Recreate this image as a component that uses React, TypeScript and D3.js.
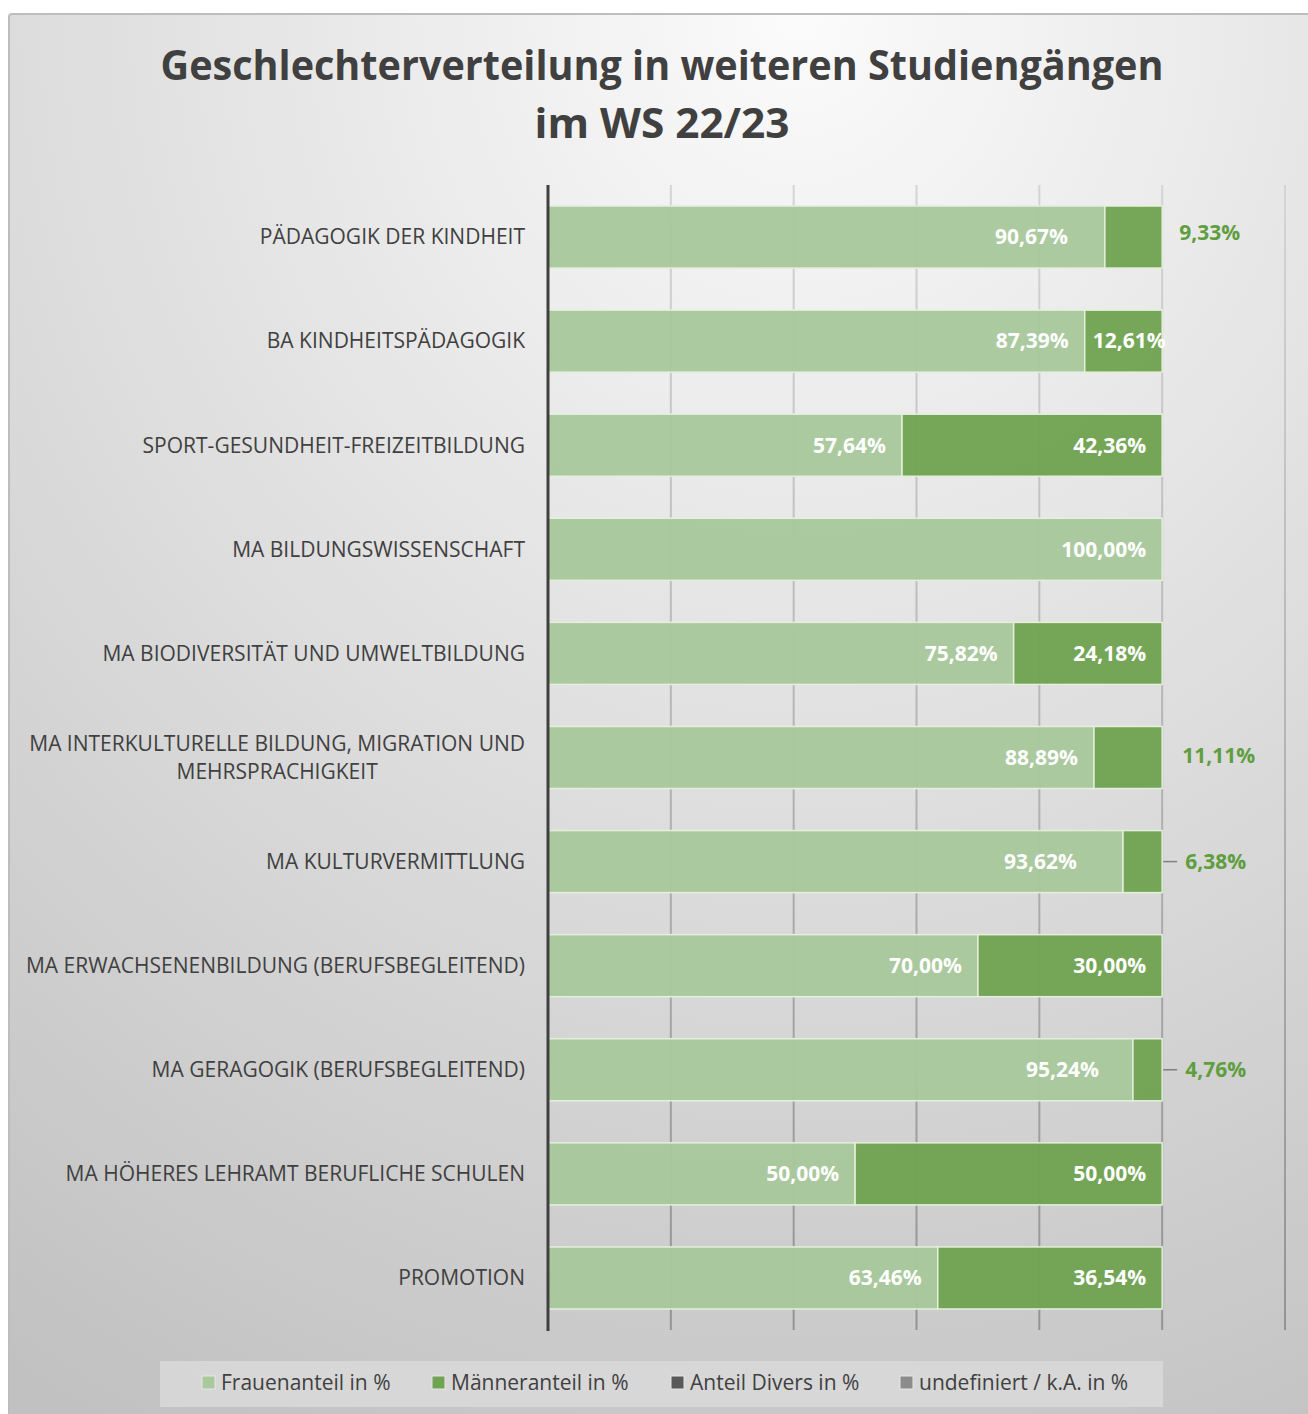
import React, { useEffect, useRef } from 'react';
import * as d3 from 'd3';

const categories = [
  'PÄDAGOGIK DER KINDHEIT',
  'BA KINDHEITSPÄDAGOGIK',
  'SPORT-GESUNDHEIT-FREIZEITBILDUNG',
  'MA BILDUNGSWISSENSCHAFT',
  'MA BIODIVERSITÄT UND UMWELTBILDUNG',
  'MA INTERKULTURELLE BILDUNG, MIGRATION UND MEHRSPRACHIGKEIT',
  'MA KULTURVERMITTLUNG',
  'MA ERWACHSENENBILDUNG (BERUFSBEGLEITEND)',
  'MA GERAGOGIK (BERUFSBEGLEITEND)',
  'MA HÖHERES LEHRAMT BERUFLICHE SCHULEN',
  'PROMOTION',
];
const frauen = [90.67, 87.39, 57.64, 100.0, 75.82, 88.89, 93.62, 70.0, 95.24, 50.0, 63.46];
const maenner = [9.33, 12.61, 42.36, 0, 24.18, 11.11, 6.38, 30.0, 4.76, 50.0, 36.54];
const divers = [0, 0, 0, 0, 0, 0, 0, 0, 0, 0, 0];
const undefiniert = [0, 0, 0, 0, 0, 0, 0, 0, 0, 0, 0];
const seriesNames = ['Frauenanteil in %', 'Männeranteil in %', 'Anteil Divers in %', 'undefiniert / k.A. in %'];
const xTicks = [0, 20, 40, 60, 80, 100, 120];
const titleLines = ['Geschlechterverteilung in weiteren Studiengängen', 'im WS 22/23'];

// layout-only constants (label placement as in the original)
const titleWidths = [1003, 255];
const categoryLines: Record<number, string[]> = {
  5: ['MA INTERKULTURELLE BILDUNG, MIGRATION UND', 'MEHRSPRACHIGKEIT'],
};
const frauenLabelNudge: Record<number, number> = { 0: -21, 6: -30, 8: -18 };
const maennerLabelMode = ['outside', 'insideStart', 'insideEnd', 'none', 'insideEnd', 'outside', 'leader', 'insideEnd', 'leader', 'insideEnd', 'insideEnd'];
const outsideDy: Record<number, number> = { 0: -4, 5: -2 };

const W = 1308;
const H = 1414;
const FONT = "'Open Sans', 'DejaVu Sans', sans-serif";
const TEXT = '#404040';
const colors = ['#a9c89b', '#70a352', '#595959', '#8c8c8c'];
const outsideGreen = '#5f9e3e';
const FS = 21;

const fmt = (v: number) => d3.format('.2f')(v).replace('.', ',') + '%';

export default function App() {
  const ref = useRef<SVGSVGElement | null>(null);

  useEffect(() => {
    const svg = d3.select(ref.current);
    svg.selectAll('*').remove();

    const defs = svg.append('defs');
    const bg = defs.append('radialGradient').attr('id', 'bg')
      .attr('cx', 0.6).attr('cy', 0).attr('r', 1.12).attr('fx', 0.6).attr('fy', 0);
    bg.append('stop').attr('offset', 0).attr('stop-color', '#fbfbfb');
    bg.append('stop').attr('offset', 1).attr('stop-color', '#c1c1c1');

    const gridGrad = defs.append('linearGradient').attr('id', 'gridg')
      .attr('gradientUnits', 'userSpaceOnUse').attr('x1', 0).attr('y1', 185).attr('x2', 0).attr('y2', 1330);
    gridGrad.append('stop').attr('offset', 0).attr('stop-color', '#d4d4d4');
    gridGrad.append('stop').attr('offset', 1).attr('stop-color', '#939393');

    // chart area background
    svg.append('rect').attr('x', 9).attr('y', 14).attr('width', W + 10).attr('height', H + 10)
      .attr('rx', 3).attr('fill', 'url(#bg)').attr('stroke', '#bdbdbd').attr('stroke-width', 2);

    // title
    const title = svg.append('g').attr('font-family', FONT)
      .attr('font-weight', 700).attr('font-size', 41).attr('fill', TEXT);
    titleLines.forEach((t, i) => {
      title.append('text').attr('text-anchor', 'middle').attr('x', 662).attr('y', 80 + i * 58)
        .attr('textLength', titleWidths[i]).attr('lengthAdjust', 'spacingAndGlyphs').text(t);
    });

    const x = d3.scaleLinear().domain([0, 120]).range([548, 1285]);
    const y = d3.scaleBand<string>().domain(categories).range([185, 1330])
      .paddingInner(0.404).paddingOuter(0.202);

    // gridlines
    svg.append('g').selectAll('line').data(xTicks.filter(t => t > 0)).join('line')
      .attr('x1', d => x(d)).attr('x2', d => x(d)).attr('y1', 185).attr('y2', 1330)
      .attr('stroke', 'url(#gridg)').attr('stroke-width', 2);

    const rows = categories.map((c, i) => ({ c, f: frauen[i], m: maenner[i], d: divers[i], u: undefiniert[i] }));
    const stack = d3.stack<any>().keys(['f', 'm', 'd', 'u']);
    const series = stack(rows);

    series.forEach((s, si) => {
      svg.append('g').selectAll('rect').data(s).join('rect')
        .attr('x', d => x(d[0]))
        .attr('y', d => y(d.data.c) as number)
        .attr('width', d => Math.max(0, x(d[1]) - x(d[0])))
        .attr('height', y.bandwidth())
        .attr('fill', colors[si])
        .attr('fill-opacity', 0.96)
        .attr('stroke', '#e4efdc')
        .attr('stroke-width', d => (d[1] - d[0] > 0 ? 1.5 : 0));
    });

    // axis line
    svg.append('line').attr('x1', x(0)).attr('x2', x(0)).attr('y1', 185).attr('y2', 1331)
      .attr('stroke', '#404040').attr('stroke-width', 3);

    // category labels
    const catG = svg.append('g').attr('font-family', FONT).attr('font-size', FS).attr('fill', TEXT);
    categories.forEach((c, i) => {
      const cy = (y(c) as number) + y.bandwidth() / 2;
      const lines = categoryLines[i] || [c];
      if (lines.length === 1) {
        catG.append('text').attr('x', 525).attr('y', cy).attr('dy', '0.35em')
          .attr('text-anchor', 'end').text(c);
      } else {
        const t = catG.append('text').attr('text-anchor', 'middle');
        const spans = lines.map((l, li) =>
          t.append('tspan').attr('y', cy + (li - (lines.length - 1) / 2) * 28).attr('dy', '0.35em').text(l));
        let maxW = 0;
        spans.forEach(sp => { maxW = Math.max(maxW, (sp.node() as SVGTSpanElement).getComputedTextLength()); });
        spans.forEach(sp => sp.attr('x', 525 - maxW / 2));
      }
    });

    // data labels
    const lab = svg.append('g').attr('font-family', FONT).attr('font-size', FS).attr('font-weight', 700);
    rows.forEach((r, i) => {
      const cy = (y(r.c) as number) + y.bandwidth() / 2;
      if (r.f > 0) {
        lab.append('text').attr('x', x(r.f) - 16 + (frauenLabelNudge[i] || 0)).attr('y', cy)
          .attr('dy', '0.35em').attr('text-anchor', 'end').attr('fill', '#ffffff').text(fmt(r.f));
      }
      const mode = maennerLabelMode[i];
      const endX = x(r.f + r.m);
      if (mode === 'insideEnd') {
        lab.append('text').attr('x', endX - 16).attr('y', cy).attr('dy', '0.35em')
          .attr('text-anchor', 'end').attr('fill', '#ffffff').text(fmt(r.m));
      } else if (mode === 'insideStart') {
        lab.append('text').attr('x', x(r.f) + 8).attr('y', cy).attr('dy', '0.35em')
          .attr('text-anchor', 'start').attr('fill', '#ffffff').text(fmt(r.m));
      } else if (mode === 'outside') {
        lab.append('text').attr('x', endX + 17 + (i === 5 ? 3 : 0)).attr('y', cy + (outsideDy[i] || 0)).attr('dy', '0.35em')
          .attr('text-anchor', 'start').attr('fill', outsideGreen).text(fmt(r.m));
      } else if (mode === 'leader') {
        lab.append('line').attr('x1', endX + 1).attr('x2', endX + 15).attr('y1', cy).attr('y2', cy)
          .attr('stroke', '#808080').attr('stroke-width', 1.5);
        lab.append('text').attr('x', endX + 23).attr('y', cy).attr('dy', '0.35em')
          .attr('text-anchor', 'start').attr('fill', outsideGreen).text(fmt(r.m));
      }
    });

    // legend
    svg.append('rect').attr('x', 160).attr('y', 1361).attr('width', 1003).attr('height', 46)
      .attr('fill', '#d9d9d9').attr('fill-opacity', 0.85);
    const legX = [202, 432, 671, 900];
    const lg = svg.append('g').attr('font-family', FONT).attr('font-size', FS).attr('fill', TEXT);
    seriesNames.forEach((n, i) => {
      lg.append('rect').attr('x', legX[i]).attr('y', 1376).attr('width', 13).attr('height', 13)
        .attr('fill', colors[i]).attr('stroke', '#e6e6e6').attr('stroke-width', 1);
      lg.append('text').attr('x', legX[i] + 19).attr('y', 1383).attr('dy', '0.35em').text(n);
    });
  }, []);

  return (
    <svg ref={ref} width={W} height={H} viewBox={`0 0 ${W} ${H}`}
      style={{ position: 'absolute', left: 0, top: 0, display: 'block', background: '#ffffff' }} />
  );
}
